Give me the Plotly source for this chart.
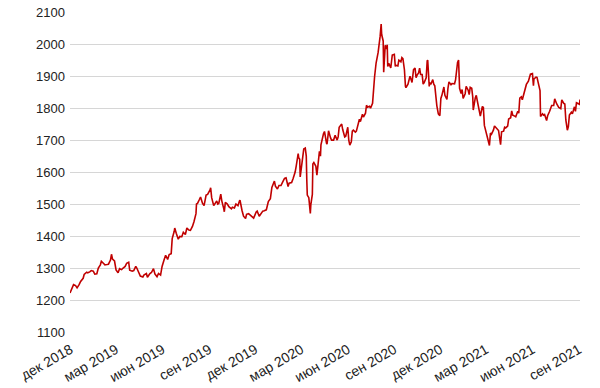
import plotly.graph_objects as go

dates = [
    "2018-11-30", "2018-12-04", "2018-12-07", "2018-12-11", "2018-12-14", "2018-12-18", "2018-12-21", "2018-12-26", "2018-12-28",
    "2019-01-02", "2019-01-04", "2019-01-08", "2019-01-11", "2019-01-15", "2019-01-18", "2019-01-22", "2019-01-25", "2019-01-29", "2019-01-31",
    "2019-02-04", "2019-02-07", "2019-02-11", "2019-02-14", "2019-02-18", "2019-02-20", "2019-02-22", "2019-02-26",
    "2019-03-01", "2019-03-05", "2019-03-08", "2019-03-12", "2019-03-15", "2019-03-19", "2019-03-22", "2019-03-26", "2019-03-28",
    "2019-04-02", "2019-04-05", "2019-04-09", "2019-04-11", "2019-04-16", "2019-04-18", "2019-04-23", "2019-04-25", "2019-04-30",
    "2019-05-02", "2019-05-07", "2019-05-10", "2019-05-14", "2019-05-17", "2019-05-21", "2019-05-24", "2019-05-28", "2019-05-31",
    "2019-06-04", "2019-06-07", "2019-06-11", "2019-06-14", "2019-06-18", "2019-06-20", "2019-06-24", "2019-06-25", "2019-06-28",
    "2019-07-02", "2019-07-05", "2019-07-09", "2019-07-12", "2019-07-16", "2019-07-19", "2019-07-23", "2019-07-26", "2019-07-30",
    "2019-08-02", "2019-08-06", "2019-08-07", "2019-08-09", "2019-08-13", "2019-08-15", "2019-08-19", "2019-08-22", "2019-08-26", "2019-08-29",
    "2019-09-03", "2019-09-04", "2019-09-06", "2019-09-10", "2019-09-12", "2019-09-16", "2019-09-18", "2019-09-20", "2019-09-24", "2019-09-26", "2019-09-30",
    "2019-10-01", "2019-10-03", "2019-10-07", "2019-10-10", "2019-10-15", "2019-10-17", "2019-10-21", "2019-10-24", "2019-10-28", "2019-10-31",
    "2019-11-01", "2019-11-05", "2019-11-08", "2019-11-12", "2019-11-14", "2019-11-18", "2019-11-21", "2019-11-25", "2019-11-28",
    "2019-12-03", "2019-12-05", "2019-12-09", "2019-12-12", "2019-12-16", "2019-12-19", "2019-12-23", "2019-12-27", "2019-12-31",
    "2020-01-03", "2020-01-07", "2020-01-08", "2020-01-10", "2020-01-14", "2020-01-17", "2020-01-21", "2020-01-24", "2020-01-28", "2020-01-31",
    "2020-02-04", "2020-02-06", "2020-02-11", "2020-02-14", "2020-02-18", "2020-02-20", "2020-02-24", "2020-02-25", "2020-02-27", "2020-02-28",
    "2020-03-03", "2020-03-06", "2020-03-09", "2020-03-11", "2020-03-12", "2020-03-13", "2020-03-16", "2020-03-18", "2020-03-19", "2020-03-20",
    "2020-03-23", "2020-03-24", "2020-03-26", "2020-03-30",
    "2020-04-01", "2020-04-03", "2020-04-06", "2020-04-08", "2020-04-09", "2020-04-14", "2020-04-16", "2020-04-20", "2020-04-21", "2020-04-23", "2020-04-24", "2020-04-28", "2020-04-30",
    "2020-05-04", "2020-05-07", "2020-05-11", "2020-05-13", "2020-05-15", "2020-05-18", "2020-05-20", "2020-05-22", "2020-05-26", "2020-05-28",
    "2020-06-01", "2020-06-03", "2020-06-05", "2020-06-08", "2020-06-10", "2020-06-12", "2020-06-16", "2020-06-18", "2020-06-22", "2020-06-24", "2020-06-26", "2020-06-30",
    "2020-07-02", "2020-07-06", "2020-07-08", "2020-07-10", "2020-07-14", "2020-07-16", "2020-07-20", "2020-07-21", "2020-07-22", "2020-07-24", "2020-07-27", "2020-07-28", "2020-07-30", "2020-07-31",
    "2020-08-04", "2020-08-06", "2020-08-07", "2020-08-10", "2020-08-11", "2020-08-12", "2020-08-13", "2020-08-14", "2020-08-17", "2020-08-18", "2020-08-19", "2020-08-21", "2020-08-25", "2020-08-27", "2020-08-28",
    "2020-09-01", "2020-09-03", "2020-09-04", "2020-09-08", "2020-09-10", "2020-09-14", "2020-09-16", "2020-09-18", "2020-09-21", "2020-09-23", "2020-09-24", "2020-09-28", "2020-09-30",
    "2020-10-02", "2020-10-06", "2020-10-09", "2020-10-12", "2020-10-14", "2020-10-16", "2020-10-19", "2020-10-21", "2020-10-23", "2020-10-26", "2020-10-28", "2020-10-30",
    "2020-11-03", "2020-11-05", "2020-11-06", "2020-11-09", "2020-11-10", "2020-11-12", "2020-11-16", "2020-11-18", "2020-11-20", "2020-11-24", "2020-11-27", "2020-11-30",
    "2020-12-02", "2020-12-04", "2020-12-08", "2020-12-10", "2020-12-14", "2020-12-16", "2020-12-18", "2020-12-22", "2020-12-24", "2020-12-29", "2020-12-31",
    "2021-01-04", "2021-01-06", "2021-01-08", "2021-01-11", "2021-01-13", "2021-01-15", "2021-01-19", "2021-01-21", "2021-01-25", "2021-01-27", "2021-01-29",
    "2021-02-01", "2021-02-03", "2021-02-04", "2021-02-08", "2021-02-10", "2021-02-12", "2021-02-16", "2021-02-18", "2021-02-22", "2021-02-24", "2021-02-26",
    "2021-03-01", "2021-03-03", "2021-03-05", "2021-03-08", "2021-03-10", "2021-03-12", "2021-03-16", "2021-03-18", "2021-03-22", "2021-03-24", "2021-03-26", "2021-03-30",
    "2021-04-01", "2021-04-05", "2021-04-07", "2021-04-09", "2021-04-13", "2021-04-15", "2021-04-19", "2021-04-21", "2021-04-23", "2021-04-27", "2021-04-29",
    "2021-05-03", "2021-05-05", "2021-05-07", "2021-05-10", "2021-05-12", "2021-05-14", "2021-05-18", "2021-05-20", "2021-05-24", "2021-05-26", "2021-05-28",
    "2021-06-01", "2021-06-03", "2021-06-04", "2021-06-08", "2021-06-10", "2021-06-14", "2021-06-16", "2021-06-17", "2021-06-21", "2021-06-23", "2021-06-25", "2021-06-29",
    "2021-07-01", "2021-07-05", "2021-07-07", "2021-07-09", "2021-07-13", "2021-07-15", "2021-07-19", "2021-07-21", "2021-07-23", "2021-07-27", "2021-07-29",
    "2021-08-02", "2021-08-04", "2021-08-06", "2021-08-09", "2021-08-11", "2021-08-13", "2021-08-17", "2021-08-19", "2021-08-23", "2021-08-25", "2021-08-27", "2021-08-31",
    "2021-09-02", "2021-09-03",
]

prices = [
    1222, 1238, 1248, 1245, 1238, 1248, 1258, 1268, 1280,
    1287, 1285, 1288, 1292, 1290, 1281, 1282, 1300, 1310, 1321,
    1315, 1310, 1311, 1312, 1325, 1343, 1328, 1322,
    1294, 1285, 1298, 1295, 1300, 1305, 1315, 1318, 1293,
    1290, 1292, 1305, 1300, 1277, 1275, 1272, 1278, 1283,
    1271, 1283, 1286, 1298, 1281, 1273, 1283, 1278, 1305,
    1326, 1340, 1327, 1342, 1345, 1392, 1415, 1425, 1409,
    1390, 1399, 1398, 1412, 1405, 1425, 1419, 1418, 1430,
    1445, 1470, 1500, 1502, 1515, 1522, 1502, 1495, 1528, 1530,
    1545, 1551, 1520, 1495, 1500, 1510, 1500, 1502, 1531, 1510, 1485,
    1476, 1505, 1500, 1492, 1485, 1490, 1488, 1500, 1495, 1510,
    1512, 1480, 1462, 1455, 1468, 1470, 1465, 1458, 1456,
    1475, 1478, 1462, 1470, 1478, 1479, 1482, 1508, 1517,
    1552, 1569, 1572, 1556, 1547, 1558, 1558, 1568, 1580, 1582,
    1555, 1565, 1567, 1580, 1600, 1618, 1658, 1645, 1640, 1585,
    1640, 1672, 1675, 1650, 1575, 1528, 1520, 1480, 1471, 1498,
    1530, 1625, 1630, 1618,
    1590, 1620, 1665, 1650, 1685, 1720, 1727, 1690, 1687, 1715, 1729, 1707, 1700,
    1700, 1715, 1700, 1710, 1740, 1745, 1750, 1733, 1710, 1712,
    1740, 1700, 1684, 1695, 1728, 1731, 1725, 1728, 1753, 1765, 1758, 1781,
    1772, 1784, 1809, 1803, 1806, 1800, 1815, 1840, 1868, 1898, 1941, 1950, 1965, 1974,
    2025, 2063, 2030, 2010, 1912, 1935, 1950, 1996, 1985, 1998, 1930, 1940, 1926, 1950, 1966,
    1968, 1930, 1934, 1932, 1950, 1945, 1958, 1955, 1920, 1868, 1864, 1875, 1887,
    1900, 1880, 1920, 1925, 1895, 1903, 1910, 1925, 1905, 1905, 1875, 1880,
    1895, 1948, 1950, 1868, 1880, 1874, 1889, 1875, 1870, 1808, 1782, 1776,
    1830, 1840, 1866, 1840, 1827, 1862, 1882, 1873, 1877, 1876, 1888,
    1943, 1950, 1862, 1846, 1858, 1830, 1845, 1868, 1856, 1842, 1865,
    1862, 1835, 1794, 1832, 1840, 1823, 1796, 1775, 1805, 1802, 1746,
    1725, 1714, 1700, 1683, 1722, 1718, 1732, 1744, 1737, 1734, 1730, 1686,
    1726, 1728, 1740, 1738, 1744, 1766, 1770, 1791, 1778, 1775, 1773,
    1790, 1784, 1831, 1835, 1826, 1840, 1866, 1874, 1884, 1900, 1906,
    1908, 1870, 1891, 1897, 1896, 1865, 1855, 1774, 1782, 1778, 1780, 1761,
    1776, 1790, 1800, 1808, 1808, 1829, 1813, 1806, 1802, 1798, 1826,
    1815, 1813, 1763, 1731, 1742, 1778, 1787, 1782, 1804, 1790, 1817, 1814,
    1812, 1827,
]

tick_dates = ["2018-12-01", "2019-03-01", "2019-06-01", "2019-09-01", "2019-12-01", "2020-03-01",
              "2020-06-01", "2020-09-01", "2020-12-01", "2021-03-01", "2021-06-01", "2021-09-01"]
tick_labels = ["дек 2018", "мар 2019", "июн 2019", "сен 2019", "дек 2019", "мар 2020",
               "июн 2020", "сен 2020", "дек 2020", "мар 2021", "июн 2021", "сен 2021"]
y_ticks = [1100, 1200, 1300, 1400, 1500, 1600, 1700, 1800, 1900, 2000, 2100]

fig = go.Figure()
fig.add_trace(go.Scatter(x=dates, y=prices, mode="lines",
                         line=dict(color="#c00000", width=1.6), showlegend=False))

fig.update_layout(
    width=600, height=388,
    margin=dict(l=70, r=20, t=12, b=56),
    paper_bgcolor="white", plot_bgcolor="white",
    font=dict(family="Liberation Sans, Arial, sans-serif", size=13, color="#222222"),
    xaxis=dict(tickvals=tick_dates, ticktext=tick_labels, tickangle=-30,
               showgrid=False, showline=False, zeroline=False, ticks="",
               automargin=False, ticklabelstandoff=6, ticklabeloverflow="allow",
               tickfont=dict(size=14)),
    yaxis=dict(range=[1100, 2100.5], tickvals=y_ticks, showgrid=True,
               gridcolor="#d6d6d6", gridwidth=1, showline=False, zeroline=False, ticks="",
               automargin=False, ticklabelstandoff=4, ticklabeloverflow="allow"),
)

# remove the browser's default 8px body margin so the 600x388 figure fills the window
fig.write_html("out.html", config={"displayModeBar": False},
               post_script="document.body.style.margin='0px';")
